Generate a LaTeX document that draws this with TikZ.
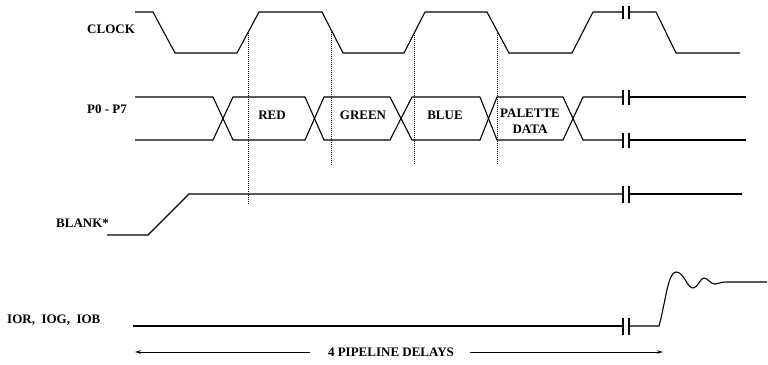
\documentclass[tikz,border=0pt]{standalone}
\usepackage{fontspec}
\setmainfont{Liberation Serif}
\usetikzlibrary{arrows.meta}
\begin{document}
\begin{tikzpicture}[x=1pt,y=-1pt,
  sig/.style={line width=1.1pt,line join=miter},
  brk/.style={line width=1.1pt},
  guide/.style={line width=0.5pt,dash pattern=on 1pt off 1pt},
  lbl/.style={font=\fontsize{13}{15}\selectfont\bfseries,inner sep=0pt},
  dim/.style={line width=1pt,-{Stealth[length=6pt,width=3.5pt]}}]
\useasboundingbox (0,0) rectangle (768,364);
% labels
\node[lbl,anchor=west] (lclk) at (87,29) {CLOCK};
\node[lbl,anchor=west] (lbus) at (87,109) {P0 - P7};
\node[lbl,anchor=west] (lblank) at (56,223) {BLANK*};
\node[lbl,anchor=west] (lior) at (7,320) {IOR,\ \ IOG,\ \ IOB};
\node[lbl] (tred) at (272,115) {RED};
\node[lbl] (tgreen) at (363,115) {GREEN};
\node[lbl] (tblue) at (445,115) {BLUE};
\node[lbl,align=center,font=\fontsize{13}{16}\selectfont\bfseries] (tpal) at (530,121) {PALETTE\\DATA};
\node[lbl] (tdelay) at (391,352) {4 PIPELINE DELAYS};
% clock
\draw[sig] (135,12) -- (153,12) -- (175,53) -- (237,53) -- (259,12) -- (322,12) -- (343,53)
  -- (404,53) -- (425,12) -- (487,12) -- (509,53) -- (572,53) -- (593,12) -- (623,12);
\draw[sig] (629,12) -- (656,12) -- (676,53) -- (740,53);
% bus
\draw[sig] (135,97) -- (213,97) -- (233,140) -- (305,140) -- (324,97) -- (390,97) -- (412,140)
  -- (480,140) -- (497,97) -- (563,97) -- (583,140) -- (623,140);
\draw[sig] (135,140) -- (213,140) -- (233,97) -- (305,97) -- (324,140) -- (390,140) -- (412,97)
  -- (480,97) -- (497,140) -- (563,140) -- (583,97) -- (623,97);
\draw[sig] (629,97) -- (746,97);
\draw[sig] (629,140) -- (746,140);
% blank
\draw[sig] (107,235) -- (148,235) -- (189,194) -- (623,194);
\draw[sig] (629,194) -- (742,194);
% IOR
\draw[sig] (133,326) -- (623,326);
\draw[sig] (629,326) -- (659,326) .. controls (666,300) and (668,272) .. (676,272)
  .. controls (684,272) and (687,288) .. (693,288)
  .. controls (698,288) and (700,278) .. (704,278)
  .. controls (708,278) and (710,284) .. (715,284)
  .. controls (719,284) and (720,282) .. (726,282) -- (767,282);
% break bars
\foreach \y/\h in {12/6.5,97/7.5,140/7.5,194/8.5,326/8.5}{
  \draw[brk] (623,\y-\h) -- (623,\y+\h);
  \draw[brk] (629,\y-\h) -- (629,\y+\h);
}
% guides
\draw[guide] (248,33) -- (248,205);
\draw[guide] (331,30) -- (331,165);
\draw[guide] (414,33) -- (414,165);
\draw[guide] (497,31) -- (497,165);
% delay arrows
\coordinate (dl) at (310,352);
\coordinate (dr) at (470,352);
\coordinate (dlend) at (135,352);
\coordinate (drend) at (663,352);
\draw[dim] (dl) -- (dlend);
\draw[dim] (dr) -- (drend);
\end{tikzpicture}
\end{document}
